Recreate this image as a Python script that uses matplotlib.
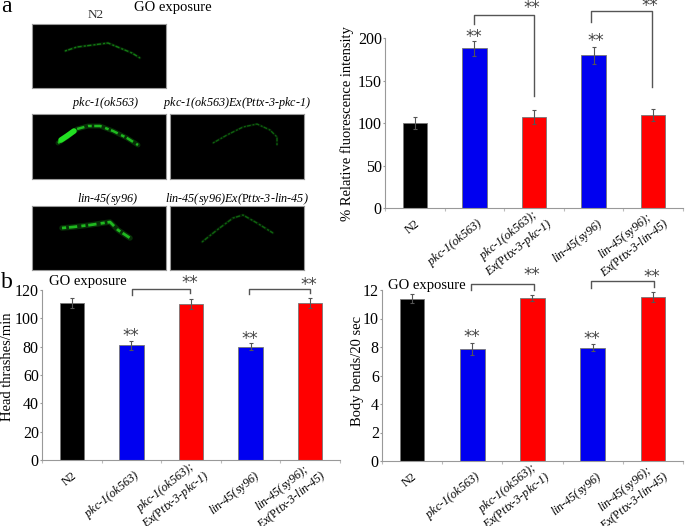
import matplotlib
matplotlib.use('Agg')
import matplotlib.pyplot as plt

plt.rcParams['font.family'] = ['Liberation Serif', 'DejaVu Serif']
plt.rcParams['mathtext.fontset'] = 'custom'
plt.rcParams['mathtext.rm'] = 'Liberation Serif'
plt.rcParams['mathtext.cal'] = 'Liberation Serif:italic'

W, H = 685, 526

# data
labels = ['N2',
          r'$\mathcal{pkc‐1(ok563)}$',
          '$\\mathcal{pkc‐1(ok563);}$\n$\\mathcal{Ex(}\\mathrm{P}\\mathcal{ttx‐3‐pkc‐1)}$',
          r'$\mathcal{lin‐45(sy96)}$',
          '$\\mathcal{lin‐45(sy96);}$\n$\\mathcal{Ex(}\\mathrm{P}\\mathcal{ttx‐3‐lin‐45)}$']
label_shift = [3, 7, 12, 8, 10]
label_drop = [14, 14, 8, 14, 8]
bar_colors = ['black', '#0000f0', '#ff0000', '#0000f0', '#ff0000']

fluor = [100, 188, 107, 180, 109]
fluor_err = [7, 9, 8, 10, 7]
thrashes = [111, 81, 110, 80, 111]
thrashes_err = [3.5, 3, 3.5, 2.5, 3.5]
bends = [11.4, 7.85, 11.45, 7.95, 11.5]
bends_err = [0.3, 0.4, 0.2, 0.25, 0.35]

# worm traces in the micrographs, in picture pixels
worm_n2 = [(65, 51), (77, 47), (93, 45), (108, 43), (120, 48), (132, 53), (140, 58)]
worm_pkc = [(58, 143), (67, 137), (77, 129), (88, 126), (100, 126), (113, 131), (127, 138), (138, 145)]
worm_pkc_head = [(61, 140), (67, 136), (74, 131)]
worm_pkc_res = [(213, 143), (227, 135), (243, 127), (257, 124), (270, 130), (277, 137), (277, 145)]
worm_lin = [(62, 228), (73, 227), (90, 225), (110, 222), (118, 230), (130, 238)]
worm_lin_res = [(202, 242), (217, 230), (233, 218), (243, 215), (257, 223), (273, 233)]


def px_axes(x0, y0, x1, y1):
    # axes from picture pixels, y counted from the top
    return fig.add_axes([x0 / W, 1 - y1 / H, (x1 - x0) / W, (y1 - y0) / H])


def micrograph(box, worm, color, lw):
    ax = px_axes(*box)
    ax.set_facecolor('black')
    ax.set_xlim(box[0], box[2])
    ax.set_ylim(box[3], box[1])
    ax.set_xticks([])
    ax.set_yticks([])
    for s in ax.spines.values():
        s.set_color('#999999')
        s.set_linewidth(0.8)
    xs = [p[0] for p in worm]
    ys = [p[1] for p in worm]
    ax.plot(xs, ys, color=color, lw=lw * 2, alpha=0.25, solid_capstyle='round')
    ax.plot(xs, ys, color=color, lw=lw, ls=(0, (1.5, 1, 3, 1.5)))
    return ax


def bar_panel(box, values, errs, ylim, yticks):
    ax = px_axes(*box)
    x = range(len(values))
    ax.bar(x, values, width=0.41, color=bar_colors, edgecolor='#777777', linewidth=0.6,
           yerr=errs, ecolor='#555555', error_kw={'elinewidth': 0.8, 'capsize': 1.5, 'capthick': 0.8})
    ax.set_xlim(-0.5, 4.5)
    ax.set_ylim(*ylim)
    ax.set_yticks(yticks)
    ax.tick_params(axis='y', labelsize=11.5, length=1.5, color='#999999', pad=0.8)
    ax.set_xticks([i - 0.5 for i in range(6)])
    ax.set_xticklabels([])
    ax.tick_params(axis='x', length=2, color='#bbbbbb')
    ax.spines['top'].set_visible(False)
    ax.spines['right'].set_visible(False)
    ax.spines['left'].set_color('#999999')
    ax.spines['bottom'].set_color('#999999')
    for i, lab in enumerate(labels):
        ax.annotate(lab, xy=(i, 0), xycoords=('data', 'axes fraction'),
                    xytext=(label_shift[i] * 0.72, -label_drop[i] * 0.72),
                    textcoords='offset points', rotation=39, rotation_mode='anchor',
                    ha='right', va='center', fontsize=8.7, linespacing=1.0, multialignment='center')
    return ax


def txt(x, y, s, **kw):
    fig.text(x / W, 1 - y / H, s, **kw)


def bracket(x0, y0, y_top, x1, y1):
    xs = [x0 / W, x0 / W, x1 / W, x1 / W]
    ys = [1 - y0 / H, 1 - y_top / H, 1 - y_top / H, 1 - y1 / H]
    fig.add_artist(plt.Line2D(xs, ys, color='#555555', lw=1.0))


def stars(x, y):
    txt(x, y, '**', fontsize=12, ha='center', va='center', color='#444444', family='DejaVu Sans')


fig = plt.figure(figsize=(W / 100, H / 100), dpi=100)

# panel a, micrographs
micrograph((32, 24, 166, 88), worm_n2, '#137a13', 1.0)
pkc_ax = micrograph((32, 114, 166, 179), worm_pkc, '#1fb81f', 1.8)
pkc_ax.plot([p[0] for p in worm_pkc_head], [p[1] for p in worm_pkc_head], color='#22e022', lw=4, solid_capstyle='round')
micrograph((170, 114, 304, 179), worm_pkc_res, '#0f640f', 0.9)
micrograph((32, 206, 166, 270), worm_lin, '#1fb81f', 2.0)
micrograph((170, 206, 304, 270), worm_lin_res, '#0f640f', 1.0)

txt(1, 7, 'a', fontsize=17, ha='left', va='center')
txt(173, 8, 'GO exposure', fontsize=10.5, ha='center', va='center')
txt(96, 15, 'N2', fontsize=9.5, ha='center', va='center', color='#333333')
txt(105, 103, r'$\mathcal{pkc‐1(ok563)}$', fontsize=8.7, ha='center', va='center')
txt(237, 103, r'$\mathcal{pkc‐1(ok563)Ex(}\mathrm{P}\mathcal{ttx‐3‐pkc‐1)}$', fontsize=8.7, ha='center', va='center')
txt(107, 199, r'$\mathcal{lin‐45(sy96)}$', fontsize=8.7, ha='center', va='center')
txt(237, 199, r'$\mathcal{lin‐45(sy96)Ex(}\mathrm{P}\mathcal{ttx‐3‐lin‐45)}$', fontsize=8.7, ha='center', va='center')

# bar panels
bar_panel((385, 38, 683, 208), fluor, fluor_err, (0, 200), [0, 50, 100, 150, 200])
bar_panel((42, 290, 340, 460), thrashes, thrashes_err, (0, 120), [0, 20, 40, 60, 80, 100, 120])
bar_panel((382, 290, 683, 461), bends, bends_err, (0, 12), [0, 2, 4, 6, 8, 10, 12])

txt(347, 124, '% Relative fluorescence intensity', fontsize=10.5, rotation=90, ha='center', va='center')
txt(8, 367, 'Head thrashes/min', fontsize=10.5, rotation=90, ha='center', va='center')
txt(357, 371, 'Body bends/20 sec', fontsize=10.5, rotation=90, ha='center', va='center')

txt(1, 282, 'b', fontsize=17, ha='left', va='center')
txt(88, 282, 'GO exposure', fontsize=10.5, ha='center', va='center')
txt(427, 285, 'GO exposure', fontsize=10.5, ha='center', va='center')

# significance marks, panel a
bracket(474, 24, 15, 534, 96)
bracket(591, 22, 11, 652, 87)
stars(532, 8)
stars(650, 6)
stars(474, 37)
stars(596, 41)

# panel b left
bracket(132, 295, 289, 190, 293)
bracket(249, 294, 289, 310, 293)
stars(190, 283)
stars(309, 285)
stars(131, 336)
stars(250, 339)

# panel b right
bracket(471, 290, 284, 534, 290)
bracket(591, 288, 281, 654, 287)
stars(532, 275)
stars(652, 277)
stars(472, 337)
stars(592, 339)

fig.savefig('out.png', dpi=100)
